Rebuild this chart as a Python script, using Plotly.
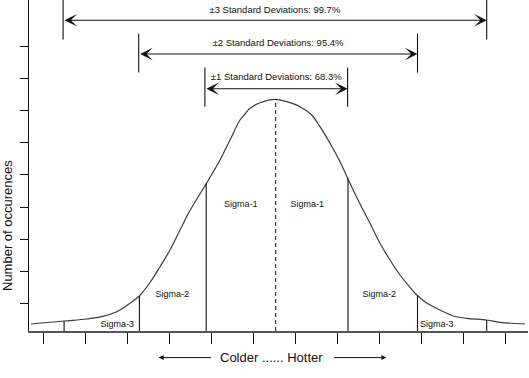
import plotly.graph_objects as go

# Bell curve (x: position along temperature scale, y: occurrences)
curve_x = [2, 35.3, 57.7, 72.7, 87.7, 101, 110.3, 121, 131, 141, 151, 161, 177.5,
           191, 201, 211, 216, 221, 231, 246.7, 257.7, 271, 282.7, 291, 301, 311,
           318.7, 329, 341, 351, 361, 371, 381, 388.3, 398, 411, 424.3, 437.7,
           457.7, 471, 496]
curve_y = [7, 10, 12, 14.3, 19.3, 27.7, 35, 48.5, 64.3, 81, 101, 120.5, 147.7,
           171, 191, 211, 217, 222.7, 228.3, 231.7, 229.3, 224.3, 216, 204.3, 187.7, 169.3,
           152.7, 131, 107.7, 87.7, 71, 56, 43.7, 35.5, 27.7, 21, 15, 12.7,
           11, 8.7, 7]

# Sigma boundaries and the curve height at each
bound_x = [35.1, 110.4, 177.2, 319.0, 388.5, 457.7]
bound_top = [10, 35, 147.7, 152.7, 35.5, 11]
mean_x = 246.7
mean_top = 231.7

# Range brackets at the top
range_labels = ["±3 Standard Deviations: 99.7%",
                "±2 Standard Deviations: 95.4%",
                "±1 Standard Deviations: 68.3%"]
range_left = [34.1, 109.7, 175.9]
range_right = [457.7, 388.5, 318.6]
range_arrow_y = [310.75, 277, 242.2]
range_bar_lo = [291.5, 258.4, 224.3]
range_bar_hi = [331, 297.25, 263.5]
range_text_y = [320.2, 287.8, 253.4]

sigma_labels = ["Sigma-3", "Sigma-2", "Sigma-1", "Sigma-1", "Sigma-2", "Sigma-3"]
sigma_label_x = [88.2, 143.2, 211.8, 278.3, 350.2, 407.7]
sigma_label_y = [6, 36, 126, 126, 36.7, 6]

x_tick_vals = [14.2, 56.4, 98.6, 140.4, 182.6, 224.8, 266.7, 308.8, 350.7, 392.9, 434.7, 476.6]
y_tick_vals = [27.7, 59.8, 91.9, 124, 156.1, 188.2, 220.3, 252.4, 284.5]

FONT = "Liberation Sans, Arial, sans-serif"
INK = "#111111"

fig = go.Figure()

# curve
fig.add_trace(go.Scatter(x=curve_x, y=curve_y, mode="lines",
                         line=dict(color="#3a3a3a", width=1.2, shape="spline", smoothing=1),
                         hoverinfo="skip", showlegend=False))

# sigma boundary lines
bx, by = [], []
for x, t in zip(bound_x, bound_top):
    bx += [x, x, None]
    by += [0, t, None]
fig.add_trace(go.Scatter(x=bx, y=by, mode="lines", line=dict(color=INK, width=1.1),
                         hoverinfo="skip", showlegend=False))

# mean dashed line
fig.add_trace(go.Scatter(x=[mean_x, mean_x], y=[0, mean_top], mode="lines",
                         line=dict(color=INK, width=1, dash="4px,3px"),
                         hoverinfo="skip", showlegend=False))

# bracket vertical bars
vx, vy = [], []
for l, r, lo, hi in zip(range_left, range_right, range_bar_lo, range_bar_hi):
    vx += [l, l, None, r, r, None]
    vy += [lo, hi, None, lo, hi, None]
fig.add_trace(go.Scatter(x=vx, y=vy, mode="lines", line=dict(color=INK, width=1.1),
                         hoverinfo="skip", showlegend=False, cliponaxis=False))

# sigma labels
fig.add_trace(go.Scatter(x=sigma_label_x, y=sigma_label_y, mode="text", text=sigma_labels,
                         textfont=dict(family=FONT, size=9, color=INK),
                         hoverinfo="skip", showlegend=False, cliponaxis=False))

# range texts
fig.add_trace(go.Scatter(x=[(l + r) / 2 for l, r in zip(range_left, range_right)],
                         y=range_text_y, mode="text", text=range_labels,
                         textfont=dict(family=FONT, size=9.5, color=INK),
                         hoverinfo="skip", showlegend=False, cliponaxis=False))

annotations = []
for l, r, y in zip(range_left, range_right, range_arrow_y):
    annotations.append(dict(x=r, y=y, ax=l, ay=y, xref="x", yref="y", axref="x", ayref="y",
                            text="", showarrow=True, arrowside="end+start",
                            arrowhead=3, startarrowhead=3, arrowsize=1.9, startarrowsize=1.9,
                            arrowwidth=1.1, arrowcolor=INK, standoff=0, startstandoff=0))

# bottom direction arrows and caption (below the plot area -> paper y)
CAP_Y = -26.6 / 331
annotations.append(dict(x=129.6, y=CAP_Y, ax=183.6, ay=0, xref="x", yref="paper",
                        axref="x", ayref="pixel", text="", showarrow=True, arrowhead=2,
                        arrowsize=1, arrowwidth=1, arrowcolor=INK))
annotations.append(dict(x=357.4, y=CAP_Y, ax=303.4, ay=0, xref="x", yref="paper",
                        axref="x", ayref="pixel", text="", showarrow=True, arrowhead=2,
                        arrowsize=1, arrowwidth=1, arrowcolor=INK))
annotations.append(dict(x=242.7 / 499, y=CAP_Y, xref="paper", yref="paper",
                        xanchor="center", yanchor="middle",
                        text="Colder ...... Hotter", showarrow=False,
                        font=dict(family=FONT, size=13, color=INK)))
annotations.append(dict(x=-22 / 499, y=105 / 331, xref="paper", yref="paper",
                        xanchor="center", yanchor="middle",
                        text="Number of occurences", textangle=-90, showarrow=False,
                        font=dict(family=FONT, size=13, color=INK)))

fig.update_layout(
    width=529, height=378,
    margin=dict(l=29, r=1, t=0, b=47, pad=0),
    paper_bgcolor="white", plot_bgcolor="white",
    annotations=annotations,
    xaxis=dict(range=[0, 499], showgrid=False, zeroline=False, showline=True,
               linecolor="#555555", linewidth=2, ticks="outside", ticklen=11,
               tickcolor=INK, tickwidth=1, tickvals=x_tick_vals, showticklabels=False,
               fixedrange=True),
    yaxis=dict(range=[0, 331], showgrid=False, zeroline=False, showline=True,
               linecolor=INK, linewidth=1.2, ticks="outside", ticklen=8,
               tickcolor=INK, tickwidth=1, tickvals=y_tick_vals, showticklabels=False,
               fixedrange=True),
)

fig.write_html("out.html", config={"displayModeBar": False},
               post_script="document.body.style.margin='0px';document.body.style.overflow='hidden';")
